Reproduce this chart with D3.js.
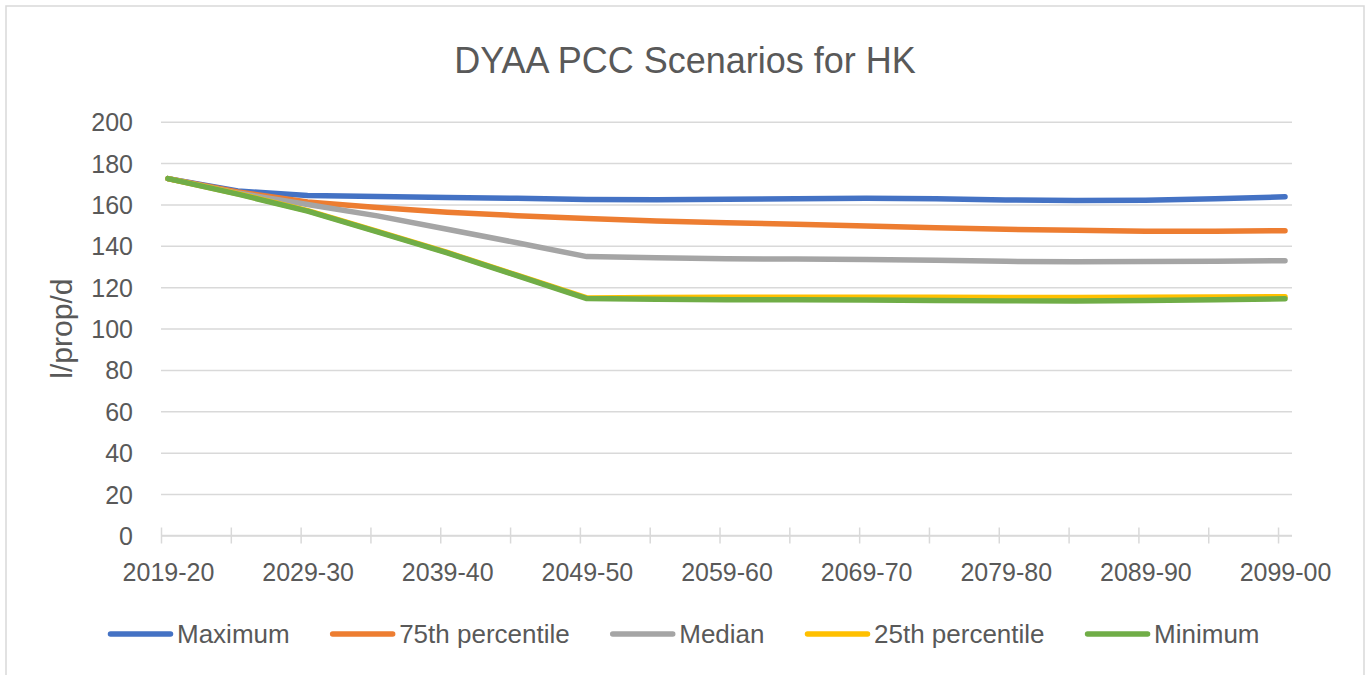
<!DOCTYPE html>
<html>
<head>
<meta charset="utf-8">
<script src="https://cdn.jsdelivr.net/npm/d3@7"></script>
<style>
  body { margin: 0; background: #fff; }
  svg { display: block; font-family: "Liberation Sans", Arial, sans-serif; }
</style>
</head>
<body>
<div id="chart"></div>
<script>
const width = 1368;
const height = 675;

// data points every 5 years (yearly category axis underneath)
const periods = ["2019-20", "2024-25", "2029-30", "2034-35", "2039-40", "2044-45",
  "2049-50", "2054-55", "2059-60", "2064-65", "2069-70", "2074-75", "2079-80",
  "2084-85", "2089-90", "2094-95", "2099-00"];

const tickLabels = ["2019-20", "2029-30", "2039-40", "2049-50", "2059-60",
  "2069-70", "2079-80", "2089-90", "2099-00"];

const maximum = [172.5, 166.5, 164.3, 163.8, 163.4, 163.0, 162.4, 162.3, 162.5,
  162.8, 163.0, 162.8, 162.2, 161.9, 162.0, 162.8, 163.7];
const pct75 = [172.5, 166.0, 161.2, 158.5, 156.2, 154.6, 153.2, 152.0, 151.2,
  150.4, 149.6, 148.8, 148.0, 147.5, 147.0, 147.0, 147.3];
const median = [172.5, 165.5, 160.0, 154.5, 148.0, 141.5, 134.8, 134.2, 133.8,
  133.6, 133.4, 133.0, 132.5, 132.3, 132.4, 132.6, 132.8];
const pct25 = [172.5, 165.2, 157.0, 147.0, 136.8, 125.8, 114.8, 115.0, 115.1,
  115.2, 115.2, 115.1, 115.0, 115.0, 115.1, 115.3, 115.4];
const minimum = [172.5, 165.0, 156.8, 146.8, 136.6, 125.6, 114.5, 114.2, 114.0,
  113.9, 113.8, 113.6, 113.4, 113.4, 113.6, 114.0, 114.4];

const seriesNames = ["Maximum", "75th percentile", "Median", "25th percentile", "Minimum"];
const seriesValues = [maximum, pct75, median, pct25, minimum];
const colors = ["#4472C4", "#ED7D31", "#A5A5A5", "#FFC000", "#70AD47"];

const plot = { left: 161, right: 1292, top: 121.7, bottom: 535.5 };
const textColor = "#595959";
const gridColor = "#d9d9d9";

const startYear = (p) => +p.slice(0, 4);

const svg = d3
  .select("#chart")
  .append("svg")
  .attr("width", width)
  .attr("height", height);

// chart frame
svg
  .append("rect")
  .attr("x", 6)
  .attr("y", 6)
  .attr("width", 1358)
  .attr("height", 720)
  .attr("fill", "#fff")
  .attr("stroke", gridColor)
  .attr("stroke-width", 1.5);

// SCALES -- one unit per year, points sit in the middle of their category
const x = d3
  .scaleLinear()
  .domain([startYear(periods[0]) - 0.5, startYear(periods[periods.length - 1]) + 0.5])
  .range([plot.left, plot.right]);

const y = d3
  .scaleLinear()
  .domain([0, 200])
  .range([plot.bottom, plot.top]);

// Y GRID + LABELS
const yAxis = svg
  .append("g")
  .attr("transform", `translate(${plot.left},0)`)
  .call(
    d3.axisLeft(y)
      .tickValues(d3.range(0, 201, 20))
      .tickSize(-(plot.right - plot.left))
      .tickPadding(28)
  );
yAxis.select(".domain").remove();
yAxis.selectAll(".tick line")
  .attr("stroke", gridColor)
  .attr("stroke-width", 1.5);
yAxis.selectAll(".tick text")
  .attr("fill", textColor)
  .attr("font-size", 25)
  .attr("font-family", "Liberation Sans, Arial, sans-serif")
  .attr("dy", "0.36em");

// X AXIS -- tick marks every 5 categories, crossing the axis line
const xTicks = svg
  .append("g")
  .attr("transform", `translate(0,${plot.bottom})`)
  .call(
    d3.axisBottom(x)
      .tickValues(periods.map((p) => startYear(p) - 0.5))
      .tickSize(8)
      .tickFormat("")
  );
xTicks.select(".domain")
  .attr("d", `M${plot.left},0H${plot.right}`)
  .attr("stroke", gridColor)
  .attr("stroke-width", 1.5);
xTicks.selectAll(".tick line")
  .attr("y1", -8)
  .attr("y2", 8)
  .attr("stroke", gridColor)
  .attr("stroke-width", 1.5);

const xLabels = svg
  .append("g")
  .attr("transform", `translate(0,${plot.bottom})`)
  .call(
    d3.axisBottom(x)
      .tickValues(tickLabels.map(startYear))
      .tickSize(0)
      .tickFormat((d) => tickLabels.find((t) => startYear(t) === d))
  );
xLabels.select(".domain").remove();
xLabels.selectAll(".tick text")
  .attr("fill", textColor)
  .attr("font-size", 25)
  .attr("font-family", "Liberation Sans, Arial, sans-serif")
  .attr("dy", 0)
  .attr("y", 45);

// LINES
const line = d3
  .line()
  .x((d) => x(startYear(d.period)))
  .y((d) => y(d.value));

seriesValues.forEach((vals, i) => {
  const pts = periods.map((p, j) => ({ period: p, value: vals[j] }));
  svg
    .append("path")
    .datum(pts)
    .attr("fill", "none")
    .attr("stroke", colors[i])
    .attr("stroke-width", 5.5)
    .attr("stroke-linejoin", "round")
    .attr("stroke-linecap", "round")
    .attr("d", line);
});

// TITLE
svg
  .append("text")
  .attr("x", 685)
  .attr("y", 72.5)
  .attr("text-anchor", "middle")
  .attr("fill", textColor)
  .attr("font-size", 36)
  .text("DYAA PCC Scenarios for HK");

// Y AXIS TITLE
svg
  .append("text")
  .attr("transform", `translate(72,${(plot.top + plot.bottom) / 2}) rotate(-90)`)
  .attr("text-anchor", "middle")
  .attr("fill", textColor)
  .attr("font-size", 30)
  .text("l/prop/d");

// LEGEND
const legend = svg.append("g");
const legendY = 634;
const swatch = 60;
let cursor = 0;
const items = seriesNames.map((name, i) => {
  const g = legend.append("g");
  g.append("line")
    .attr("x1", 0)
    .attr("x2", swatch)
    .attr("y1", legendY)
    .attr("y2", legendY)
    .attr("stroke", colors[i])
    .attr("stroke-width", 5.5)
    .attr("stroke-linecap", "round");
  const t = g.append("text")
    .attr("x", swatch + 6.5)
    .attr("y", legendY + 8.5)
    .attr("fill", textColor)
    .attr("font-size", 26)
    .text(name);
  const w = swatch + 6.5 + t.node().getComputedTextLength();
  g.attr("transform", `translate(${cursor},0)`);
  cursor += w + 43;
  return g;
});
const legendWidth = cursor - 43;
legend.attr("transform", `translate(${685 - legendWidth / 2},0)`);
</script>
</body>
</html>
